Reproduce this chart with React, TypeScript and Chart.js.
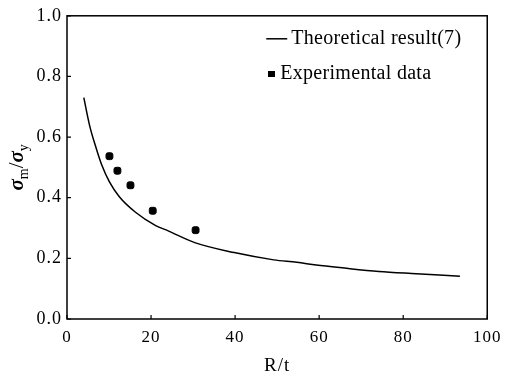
import React, { useEffect, useRef } from 'react';
import { Chart, registerables } from 'chart.js';
Chart.register(...registerables);

const theoryX = [4, 5.4, 7, 8.3, 10.1, 12.4, 16.3, 21, 24.2, 30.4, 39.8, 49.2, 54.7, 59.3, 66, 74.2, 82, 93.5];
const theoryY = [0.73, 0.637, 0.561, 0.507, 0.452, 0.404, 0.352, 0.309, 0.29, 0.252, 0.219, 0.195, 0.187, 0.178, 0.168, 0.157, 0.15, 0.141];
const expX = [10.1, 12.0, 15.1, 20.4, 30.6];
const expY = [0.537, 0.489, 0.441, 0.357, 0.293];
const xTickValues = [0, 20, 40, 60, 80, 100];
const xTickLabels = ['0', '20', '40', '60', '80', '100'];
const yTickValues = [0, 0.2, 0.4, 0.6, 0.8, 1.0];
const yTickLabels = ['0.0', '0.2', '0.4', '0.6', '0.8', '1.0'];
const seriesNames = ['Theoretical result(7)', 'Experimental data'];
const xTitle = 'R/t';

const FONT = "'Liberation Serif', 'Times New Roman', serif";

export default function App() {
  const ref = useRef<HTMLCanvasElement>(null);
  useEffect(() => {
    const spacingPlugin = {
      id: 'spacing',
      beforeDraw(chart: any) {
        (chart.ctx as any).letterSpacing = '1px';
      },
    };

    const framePlugin = {
      id: 'frame',
      afterDraw(chart: any) {
        const { ctx, chartArea: a, scales } = chart;
        ctx.save();
        ctx.strokeStyle = '#000';
        ctx.lineWidth = 1.5;
        ctx.strokeRect(a.left, a.top, a.right - a.left, a.bottom - a.top);
        ctx.lineWidth = 1.2;
        ctx.beginPath();
        yTickValues.forEach((v) => {
          const py = scales.y.getPixelForValue(v);
          ctx.moveTo(a.left, py);
          ctx.lineTo(a.left + 4, py);
        });
        xTickValues.forEach((v) => {
          const px = scales.x.getPixelForValue(v);
          ctx.moveTo(px, a.bottom);
          ctx.lineTo(px, a.bottom - 4);
        });
        ctx.stroke();

        // legend
        const lx = a.right - 221;
        const ly1 = a.top + 23;
        const ly2 = a.top + 58;
        ctx.lineWidth = 1.5;
        ctx.beginPath();
        ctx.moveTo(lx, ly1);
        ctx.lineTo(lx + 21, ly1);
        ctx.stroke();
        ctx.fillStyle = '#000';
        ctx.fillRect(Math.round(lx + 2), Math.round(ly2 - 3), 7, 6);
        (ctx as any).letterSpacing = '0.3px';
        ctx.font = `20px ${FONT}`;
        ctx.textBaseline = 'middle';
        ctx.textAlign = 'left';
        ctx.fillText(seriesNames[0], lx + 25, ly1);
        ctx.fillText(seriesNames[1], lx + 14, ly2);
        (ctx as any).letterSpacing = '0px';

        // y title with subscripts
        const cy = (a.top + a.bottom) / 2;
        ctx.translate(17, cy);
        ctx.rotate(-Math.PI / 2);
        const big = `italic bold 21px ${FONT}`;
        const small = `14px ${FONT}`;
        const parts: [string, string, number][] = [
          ['σ', big, 0],
          ['m', small, 5],
          ['/', `21px ${FONT}`, 0],
          ['σ', big, 0],
          ['y', small, 5],
        ];
        let total = 0;
        parts.forEach(([t, f]) => {
          ctx.font = f;
          total += ctx.measureText(t).width;
        });
        let x = -total / 2;
        ctx.textBaseline = 'alphabetic';
        parts.forEach(([t, f, dy]) => {
          ctx.font = f;
          ctx.fillText(t, x, 6 + dy);
          x += ctx.measureText(t).width;
        });
        ctx.restore();
      },
    };

    const chart = new Chart(ref.current!, {
      type: 'scatter',
      data: {
        datasets: [
          {
            label: seriesNames[0],
            data: theoryX.map((x, i) => ({ x, y: theoryY[i] })),
            showLine: true,
            borderColor: '#000',
            backgroundColor: '#000',
            borderWidth: 1.5,
            pointRadius: 0,
            cubicInterpolationMode: 'monotone',
            fill: false,
          } as any,
          {
            label: seriesNames[1],
            data: expX.map((x, i) => ({ x, y: expY[i] })),
            showLine: false,
            pointStyle: 'rectRounded',
            pointRadius: 4,
            borderWidth: 1,
            backgroundColor: '#000',
            borderColor: '#000',
          } as any,
        ],
      },
      options: {
        responsive: false,
        animation: false,
        layout: { padding: { top: 12, right: 15, left: 0, bottom: 0 } },
        plugins: { legend: { display: false }, tooltip: { enabled: false } },
        scales: {
          x: {
            type: 'linear',
            min: 0,
            max: 100,
            afterBuildTicks: (s: any) => {
              s.ticks = xTickValues.map((v) => ({ value: v }));
            },
            afterFit: (s: any) => {
              s.height = 61;
            },
            grid: { display: false, drawTicks: false },
            border: { display: false },
            ticks: {
              padding: 8,
              color: '#000',
              maxRotation: 0,
              font: { family: FONT, size: 17 },
              callback: (_v: any, i: number) => xTickLabels[i],
            },
            title: {
              display: true,
              text: xTitle,
              color: '#000',
              font: { family: FONT, size: 19 },
              padding: { top: 0, bottom: 3 },
            },
          },
          y: {
            type: 'linear',
            min: 0,
            max: 1,
            afterBuildTicks: (s: any) => {
              s.ticks = yTickValues.map((v) => ({ value: v }));
            },
            afterFit: (s: any) => {
              s.width = 67;
            },
            grid: { display: false, drawTicks: false },
            border: { display: false },
            ticks: {
              padding: 5,
              color: '#000',
              font: { family: FONT, size: 18 },
              callback: (_v: any, i: number) => yTickLabels[i],
            },
          },
        },
      },
      plugins: [spacingPlugin, framePlugin],
    });
    return () => chart.destroy();
  }, []);
  return (
    <div style={{ position: 'fixed', left: 0, top: 0, width: 508, height: 380, background: '#fff' }}>
      <canvas ref={ref} width={508} height={380} style={{ display: 'block' }} />
    </div>
  );
}
